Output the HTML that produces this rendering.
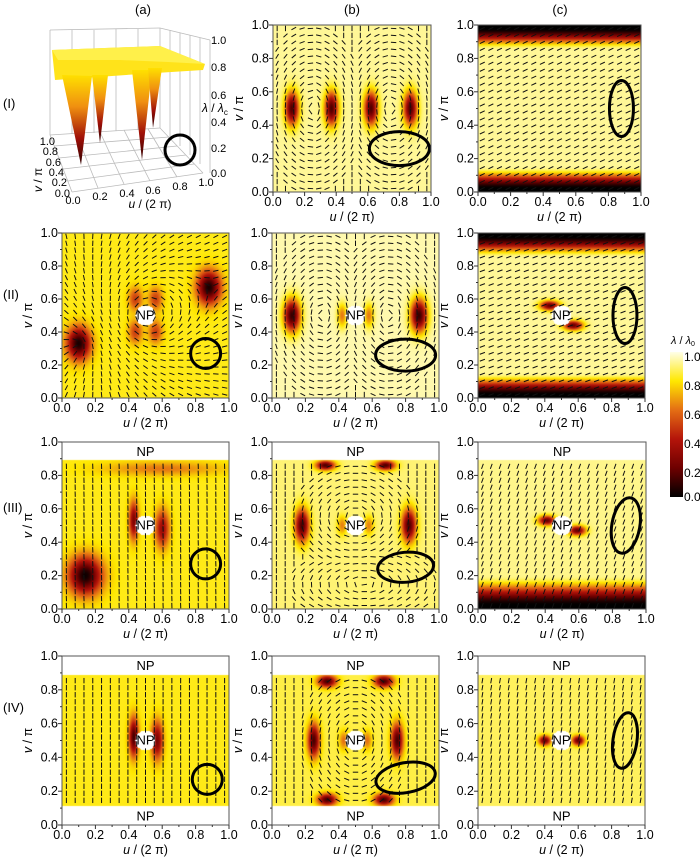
<!DOCTYPE html>
<html><head><meta charset="utf-8">
<style>
body{margin:0;background:#fff;width:700px;height:859px;overflow:hidden;position:relative;font-family:"Liberation Sans",sans-serif}
canvas{position:absolute}
svg{position:absolute;left:0;top:0}
</style></head>
<body>
<svg id="ov" width="700" height="859"></svg>
<script>
// ---- data: dips [u, v, depth, sigmaU, sigmaV] ----
const dipsIb=[[0.12,0.5,0.85,0.03,0.07],[0.37,0.5,0.85,0.03,0.07],[0.62,0.5,0.85,0.03,0.07],[0.87,0.5,0.85,0.03,0.07]];
const dipsIc=[];
const dipsIIa=[[0.1,0.33,0.95,0.05,0.07],[0.88,0.67,0.95,0.05,0.07],[0.44,0.6,0.4,0.03,0.05],[0.56,0.6,0.4,0.03,0.05],[0.44,0.4,0.4,0.03,0.05],[0.56,0.4,0.4,0.03,0.05]];
const dipsIIb=[[0.12,0.5,0.9,0.035,0.07],[0.88,0.5,0.9,0.035,0.07],[0.42,0.5,0.35,0.02,0.05],[0.58,0.5,0.35,0.02,0.05]];
const dipsIIc=[[0.43,0.56,0.8,0.04,0.02],[0.57,0.44,0.8,0.04,0.02]];
const dipsIIIa=[[0.14,0.2,0.97,0.07,0.08],[0.43,0.53,0.7,0.02,0.08],[0.6,0.48,0.6,0.03,0.08],[0.6,0.84,0.25,0.25,0.03]];
const dipsIIIb=[[0.32,0.86,0.85,0.04,0.02],[0.68,0.86,0.85,0.04,0.02],[0.18,0.5,0.85,0.03,0.07],[0.82,0.5,0.85,0.03,0.07],[0.42,0.5,0.3,0.02,0.04],[0.58,0.5,0.3,0.02,0.04]];
const dipsIIIc=[[0.41,0.53,0.8,0.035,0.02],[0.59,0.47,0.8,0.035,0.02]];
const dipsIVa=[[0.43,0.52,0.85,0.02,0.08],[0.57,0.5,0.7,0.025,0.08]];
const dipsIVb=[[0.33,0.85,0.85,0.04,0.025],[0.67,0.85,0.85,0.04,0.025],[0.33,0.15,0.85,0.04,0.025],[0.67,0.15,0.85,0.04,0.025],[0.25,0.5,0.85,0.025,0.07],[0.75,0.5,0.85,0.025,0.07],[0.43,0.5,0.3,0.02,0.04],[0.57,0.5,0.3,0.02,0.04]];
const dipsIVc=[[0.4,0.5,0.8,0.025,0.02],[0.6,0.5,0.8,0.025,0.02]];
const ticks=[0,0.2,0.4,0.6,0.8,1.0];
const tickLabels=["0.0","0.2","0.4","0.6","0.8","1.0"];
const cmapStops=[0,0.2,0.4,0.6,0.8,1.0];
const cmapColors=[[0,0,0],[110,0,0],[180,20,10],[228,110,20],[255,232,0],[255,255,232]];

const panels=[
 {id:'I-b',x:273,y:25,w:158,h:167,base:0.93,dips:dipsIb,band:null,npC:false,npT:false,npB:false,dir:{t:'ell',c:[[0.25,0.5,0.3,0.45],[0.75,0.5,0.3,0.45]]},mark:[0.8,0.26,30,17,0]},
 {id:'I-c',x:478,y:25,w:163,h:167,base:0.93,dips:dipsIc,band:[0.15,0.15],npC:false,npT:false,npB:false,dir:{t:'c',a:25},mark:[0.88,0.5,12,28,0]},
 {id:'II-a',x:62,y:233,w:167,h:165,base:0.82,dips:dipsIIa,band:null,npC:true,npT:false,npB:false,dir:{t:'rad'},mark:[0.86,0.27,15,15,0]},
 {id:'II-b',x:272,y:233,w:167,h:165,base:0.95,dips:dipsIIb,band:null,npC:true,npT:false,npB:false,dir:{t:'ell',c:[[0.3,0.5,0.3,0.45],[0.7,0.5,0.3,0.45]]},mark:[0.8,0.26,30,16,0]},
 {id:'II-c',x:478,y:233,w:167,h:165,base:0.93,dips:dipsIIc,band:[0.15,0.15],npC:true,npT:false,npB:false,dir:{t:'c',a:20},mark:[0.88,0.5,12,28,0]},
 {id:'III-a',x:62,y:442,w:167,h:167,base:0.82,dips:dipsIIIa,band:null,npC:true,npT:true,npB:false,dir:{t:'c',a:92},mark:[0.86,0.27,15,15,0]},
 {id:'III-b',x:272,y:442,w:167,h:167,base:0.9,dips:dipsIIIb,band:null,npC:true,npT:true,npB:false,dir:{t:'ell',c:[[0.5,0.55,0.35,0.3],[0.55,0.15,0.4,0.2]]},mark:[0.8,0.25,28,15,-5]},
 {id:'III-c',x:478,y:442,w:168,h:167,base:0.92,dips:dipsIIIc,band:[0.2,0],npC:true,npT:true,npB:false,dir:{t:'c',a:70},mark:[0.88,0.5,14,28,10]},
 {id:'IV-a',x:62,y:656,w:167,h:169,base:0.82,dips:dipsIVa,band:null,npC:true,npT:true,npB:true,dir:{t:'c',a:90},mark:[0.87,0.27,15,15,0]},
 {id:'IV-b',x:272,y:656,w:167,h:169,base:0.86,dips:dipsIVb,band:null,npC:true,npT:true,npB:true,dir:{t:'ell',c:[[0.5,0.5,0.3,0.4]]},mark:[0.8,0.28,30,15,-10]},
 {id:'IV-c',x:478,y:656,w:167,h:169,base:0.88,dips:dipsIVc,band:null,npC:true,npT:true,npB:true,dir:{t:'c',a:80},mark:[0.88,0.5,12,28,8]}
];

function cmap(t){t=Math.max(0,Math.min(1,t));for(let i=1;i<cmapStops.length;i++){if(t<=cmapStops[i]){const f=(t-cmapStops[i-1])/(cmapStops[i]-cmapStops[i-1]);const a=cmapColors[i-1],b=cmapColors[i];return [a[0]+(b[0]-a[0])*f,a[1]+(b[1]-a[1])*f,a[2]+(b[2]-a[2])*f];}}return cmapColors[5];}
function sm(e0,e1,x){let t=Math.max(0,Math.min(1,(x-e0)/(e1-e0)));return t*t*(3-2*t);}
function lam(p,u,v){let l=p.base;for(const d of p.dips){const q=((u-d[0])/d[3])**2+((v-d[1])/d[4])**2;l*=1-d[2]*Math.exp(-q/2);}
 if(p.band){if(p.band[1]>0)l*=sm(1-0.02,1-p.band[1],v);l*=sm(0.02,p.band[0],v);}
 return l;}
function inNP(p,u,v,sx,sy){if(p.npT&&v>0.89)return true;if(p.npB&&v<0.11)return true;if(p.npC){const dx=(u-0.5)*sx,dy=(v-0.5)*sy;if(dx*dx+dy*dy<100)return true;}return false;}
function ang(p,u,v){const d=p.dir;if(d.t==='c')return d.a*Math.PI/180;
 if(d.t==='rad'){let a=Math.atan2(v-0.5,u-0.5);a+=0.5*Math.atan2(v-0.33,u-0.1)-0.5*Math.atan2(v-0.67,u-0.88);return a;}
 let best=null,bd=1e9;for(const c of d.c){const dd=((u-c[0])/c[2])**2+((v-c[1])/c[3])**2;if(dd<bd){bd=dd;best=c;}}
 if(bd>1.3)return Math.PI/2;
 const gx=(u-best[0])/(best[2]*best[2]),gy=(v-best[1])/(best[3]*best[3]);return Math.atan2(gx,-gy);}

const NS='http://www.w3.org/2000/svg';const ov=document.getElementById('ov');
function el(tag,at,parent){const e=document.createElementNS(NS,tag);for(const k in at)e.setAttribute(k,at[k]);(parent||ov).appendChild(e);return e;}
function txt(x,y,s,at,parent){const e=el('text',Object.assign({x:x,y:y,'font-size':12,'text-anchor':'middle','font-family':'Liberation Sans, sans-serif'},at||{}),parent);e.textContent=s;return e;}

for(const p of panels){
 const cv=document.createElement('canvas');cv.width=p.w;cv.height=p.h;cv.style.left=p.x+'px';cv.style.top=p.y+'px';
 
 
 document.body.insertBefore(cv,ov);
 const ctx=cv.getContext('2d');const img=ctx.createImageData(p.w,p.h);
 for(let j=0;j<p.h;j++)for(let i=0;i<p.w;i++){const u=(i+0.5)/p.w,v=1-(j+0.5)/p.h;const k=(j*p.w+i)*4;
  let c=inNP(p,u,v,p.w,p.h)?[255,255,255]:cmap(lam(p,u,v));img.data[k]=c[0];img.data[k+1]=c[1];img.data[k+2]=c[2];img.data[k+3]=255;}
 ctx.putImageData(img,0,0);
 const g=el('g',{});
 
 
 const dg=el('g',{stroke:'#111','stroke-width':1},g);
 
 
 const nx=19,ny=24;
 for(let i=0;i<nx;i++)for(let j=0;j<ny;j++){const u=(i+0.5)/nx,v=(j+0.5)/ny;if(inNP(p,u,v,p.w*1.4,p.h*1.4))continue;
  const a=ang(p,u,v),cx=p.x+u*p.w,cy=p.y+(1-v)*p.h,L=2.7;
  el('line',{x1:cx-L*Math.cos(a),y1:cy+L*Math.sin(a),x2:cx+L*Math.cos(a),y2:cy-L*Math.sin(a)},dg);}
 if(p.npC)txt(p.x+p.w/2,p.y+p.h/2+4,'NP',{'font-size':13});
 if(p.npT)txt(p.x+p.w/2,p.y+p.h*0.06+4,'NP',{'font-size':13});
 if(p.npB)txt(p.x+p.w/2,p.y+p.h*0.95+4,'NP',{'font-size':13});
 const m=p.mark;const me=el('ellipse',{cx:p.x+m[0]*p.w,cy:p.y+(1-m[1])*p.h,rx:m[2],ry:m[3],fill:'none',stroke:'#000','stroke-width':3,transform:`rotate(${m[4]} ${p.x+m[0]*p.w} ${p.y+(1-m[1])*p.h})`},g);
 
 
 el('rect',{x:p.x,y:p.y,width:p.w,height:p.h,fill:'none',stroke:'#555','stroke-width':1},g);
 for(let k=0;k<=10;k++){const t=k/10,len=k%2?2:4;
  el('line',{x1:p.x+t*p.w,y1:p.y+p.h,x2:p.x+t*p.w,y2:p.y+p.h+len,stroke:'#333'},g);
  el('line',{x1:p.x,y1:p.y+(1-t)*p.h,x2:p.x-len,y2:p.y+(1-t)*p.h,stroke:'#333'},g);}
 ticks.forEach((t,i)=>{txt(p.x+t*p.w,p.y+p.h+14,tickLabels[i],{'font-size':12.5},g);
  txt(p.x-4,p.y+(1-t)*p.h+4,tickLabels[i],{'font-size':12.5,'text-anchor':'end'},g);});
 const xt=txt(p.x+p.w/2,p.y+p.h+29,'',{'font-size':12.5},g);xt.innerHTML='<tspan font-style="italic">u</tspan> / (2 π)';
 
 const yt=txt(0,0,'',{'font-size':12.5,transform:`translate(${p.x-30},${p.y+p.h/2}) rotate(-90)`},g);yt.innerHTML='<tspan font-style="italic">v</tspan> / π';
 
}
[['(a)',143],['(b)',352],['(c)',560]].forEach(c=>{const t=txt(c[1],14,c[0],{'font-size':13});});
[['(I)',108],['(II)',299],['(III)',512],['(IV)',712]].forEach(r=>{const t=txt(3,r[1],r[0],{'font-size':13,'text-anchor':'start'});});
</script>

<svg width="700" height="859" style="pointer-events:none">
<defs><linearGradient id="spk" x1="0" y1="0" x2="0" y2="1"><stop offset="0" stop-color="#ffe000"/><stop offset="0.35" stop-color="#f09010"/><stop offset="0.7" stop-color="#a01008"/><stop offset="1" stop-color="#300000"/></linearGradient></defs>
<g stroke="#bbb" stroke-width="0.8" fill="none">
<line x1="50" y1="30" x2="50" y2="135"/><line x1="72" y1="30" x2="72" y2="134"/><line x1="94" y1="30" x2="94" y2="133"/><line x1="116" y1="29" x2="116" y2="131"/><line x1="138" y1="29" x2="138" y2="130"/><line x1="160" y1="28" x2="160" y2="128"/>
<line x1="50" y1="30" x2="160" y2="28"/><line x1="160" y1="28" x2="210" y2="40"/>
<line x1="170" y1="30" x2="170" y2="137"/><line x1="180" y1="33" x2="180" y2="146"/><line x1="190" y1="35" x2="190" y2="155"/><line x1="200" y1="38" x2="200" y2="164"/><line x1="210" y1="40" x2="210" y2="173"/>
<line x1="50" y1="135" x2="160" y2="128"/><line x1="160" y1="128" x2="203" y2="173"/><line x1="50" y1="135" x2="72" y2="192"/><line x1="72" y1="192" x2="203" y2="173"/>
<line x1="98" y1="188" x2="76" y2="133"/><line x1="124" y1="184" x2="100" y2="132"/><line x1="150" y1="181" x2="124" y2="130"/><line x1="177" y1="177" x2="148" y2="129"/>
<line x1="54" y1="146" x2="169" y2="137"/><line x1="59" y1="158" x2="177" y2="146"/><line x1="63" y1="169" x2="186" y2="155"/><line x1="68" y1="181" x2="194" y2="164"/>
</g>
<polygon points="52,50 160,46 205,64 203,70 140,74 55,80" fill="#ffe31a"/>
<polygon points="62,75 92,76 81,165" fill="url(#spk)"/>
<polygon points="92,75 108,75 100,143" fill="url(#spk)"/>
<polygon points="132,70 152,70 142,160" fill="url(#spk)"/>
<polygon points="148,68 162,68 153,128" fill="url(#spk)"/>
<polygon points="52,50 160,46 205,64 168,62 120,60 58,60" fill="#fff04a"/>
<circle cx="180" cy="150" r="15" fill="none" stroke="#000" stroke-width="3"/>
<g font-family="Liberation Sans, sans-serif" font-size="11" fill="#000">
<text x="211" y="44">1.0</text><text x="211" y="71">0.8</text><text x="211" y="99">0.6</text><text x="211" y="126">0.4</text><text x="211" y="152">0.2</text><text x="211" y="177">0.0</text>
<text x="202" y="112" font-size="12"><tspan font-style="italic">λ</tspan> / <tspan font-style="italic">λ</tspan><tspan font-size="8" dy="3">c</tspan></text>
<text x="73" y="204" text-anchor="middle">0.0</text><text x="100" y="200" text-anchor="middle">0.2</text><text x="127" y="197" text-anchor="middle">0.4</text><text x="153" y="194" text-anchor="middle">0.6</text><text x="180" y="190" text-anchor="middle">0.8</text><text x="206" y="186" text-anchor="middle">1.0</text>
<text x="55" y="145" text-anchor="end">1.0</text><text x="58" y="155" text-anchor="end">0.8</text><text x="61" y="166" text-anchor="end">0.6</text><text x="64" y="176" text-anchor="end">0.4</text><text x="67" y="186" text-anchor="end">0.2</text><text x="70" y="197" text-anchor="end">0.0</text>
<text x="150" y="208" text-anchor="middle" font-size="12"><tspan font-style="italic">u</tspan> / (2 π)</text>
<text transform="translate(42,180) rotate(-90)" text-anchor="middle" font-size="12"><tspan font-style="italic">v</tspan> / π</text>
</g>
</svg>

<svg width="700" height="859" style="pointer-events:none">
<defs><linearGradient id="cb" x1="0" y1="1" x2="0" y2="0"><stop offset="0" stop-color="#000"/><stop offset="0.2" stop-color="#6e0000"/><stop offset="0.4" stop-color="#b4140a"/><stop offset="0.6" stop-color="#e46e14"/><stop offset="0.8" stop-color="#ffe800"/><stop offset="1" stop-color="#ffffe8"/></linearGradient></defs>
<rect x="670" y="352" width="13" height="145" fill="url(#cb)"/>
<g font-family="Liberation Sans, sans-serif" font-size="12" fill="#000">
<text x="671" y="344" font-size="11"><tspan font-style="italic">λ</tspan> / <tspan font-style="italic">λ</tspan><tspan font-size="7" dy="2">0</tspan></text>
<text x="684" y="361">1.0</text><text x="684" y="390">0.8</text><text x="684" y="419">0.6</text><text x="684" y="448">0.4</text><text x="684" y="477">0.2</text><text x="684" y="501">0.0</text>
</g>
</svg>
</body></html>
